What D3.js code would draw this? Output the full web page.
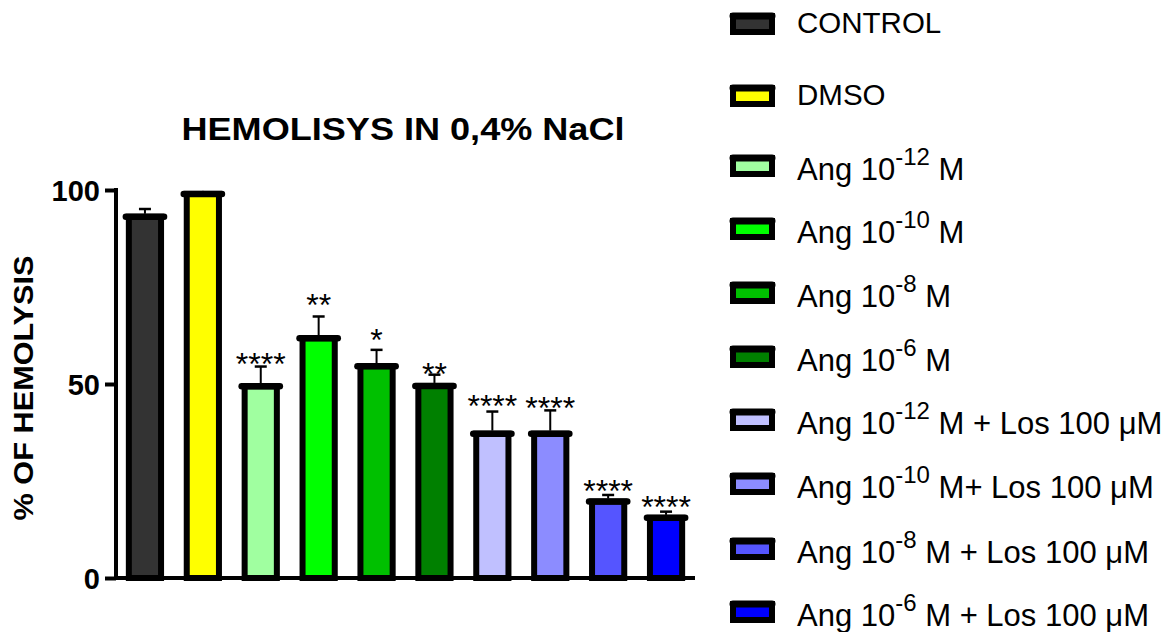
<!DOCTYPE html>
<html>
<head>
<meta charset="utf-8">
<script src="https://cdn.jsdelivr.net/npm/d3@7"></script>
<style>
  html, body { margin: 0; padding: 0; background: #fff; }
  svg { display: block; }
  text { font-family: "Liberation Sans", Arial, Helvetica, sans-serif; }
</style>
</head>
<body>
<svg id="chart" width="1175" height="632"></svg>
<script>
// ---------------- data ----------------
const categories = ["CONTROL", "DMSO", "Ang-12", "Ang-10", "Ang-8", "Ang-6",
                    "Los-12", "Los-10", "Los-8", "Los-6"];
const values   = [93.1, 99.0, 49.4, 61.8, 54.6, 49.5, 37.2, 37.2, 19.7, 15.5];
const errors   = [2.0, 0.3, 5.1, 5.6, 4.2, 2.9, 5.7, 6.0, 1.7, 1.6];
const stars    = ["", "", "****", "**", "*", "**", "****", "****", "****", "****"];
const colors   = ["#333333", "#FFFF00", "#A0FFA0", "#00FF00", "#00C000", "#008000",
                  "#C0C0FF", "#8C8CFF", "#5555FF", "#0000FF"];
// legend labels: [main text, superscript, trailing text]
const legendMain = ["CONTROL", "DMSO", "Ang 10", "Ang 10", "Ang 10", "Ang 10",
                    "Ang 10", "Ang 10", "Ang 10", "Ang 10"];
const legendSup  = ["", "", "-12", "-10", "-8", "-6", "-12", "-10", "-8", "-6"];
const legendTail = ["", "", " M", " M", " M", " M",
                    " M + Los 100 \u03BCM", " M+ Los 100 \u03BCM",
                    " M + Los 100 \u03BCM", " M + Los 100 \u03BCM"];
const yTicks = [0, 50, 100];
const titleText = "HEMOLISYS IN 0,4% NaCl";
const yLabelText = "% OF HEMOLYSIS";

// ---------------- layout (not data) ----------------
const starGap = [0, 0, 4, 13, 12, 2, 7, 4, 6, 6];     // px gap between error cap and stars
const legendRowY = [24, 96, 166, 229, 293, 357, 420, 484, 549, 612];

const svg = d3.select("#chart");

const x = d3.scaleBand().domain(categories).range([116, 695]).paddingInner(0.34).paddingOuter(0.17);
const y = d3.scaleLinear().domain([0, 100]).range([578, 190]);

const idx = d3.range(categories.length);

// bars
const bars = svg.append("g");
bars.selectAll("rect.bar").data(idx).join("rect")
  .attr("class", "bar")
  .attr("x", i => x(categories[i]) + 3)
  .attr("width", x.bandwidth() - 6)
  .attr("y", i => y(values[i]))
  .attr("height", i => y(0) - y(values[i]))
  .attr("fill", i => colors[i])
  .attr("stroke", "#000")
  .attr("stroke-width", 6);

// top caps (thick rounded line at top)
bars.selectAll("line.cap").data(idx).join("line")
  .attr("class", "cap")
  .attr("x1", i => x(categories[i]))
  .attr("x2", i => x(categories[i]) + x.bandwidth())
  .attr("y1", i => y(values[i]))
  .attr("y2", i => y(values[i]))
  .attr("stroke", "#000")
  .attr("stroke-width", 6.5)
  .attr("stroke-linecap", "round");

// error bars
const cx = i => x(categories[i]) + x.bandwidth() / 2;
bars.selectAll("line.err").data(idx).join("line")
  .attr("class", "err")
  .attr("x1", cx).attr("x2", cx)
  .attr("y1", i => y(values[i]) - 3)
  .attr("y2", i => y(values[i] + errors[i]))
  .attr("stroke", "#000").attr("stroke-width", 2);
bars.selectAll("line.errcap").data(idx).join("line")
  .attr("class", "errcap")
  .attr("x1", i => cx(i) - 6).attr("x2", i => cx(i) + 6)
  .attr("y1", i => y(values[i] + errors[i]))
  .attr("y2", i => y(values[i] + errors[i]))
  .attr("stroke", "#000").attr("stroke-width", 2.5);

// stars
const starFs = 32;
bars.selectAll("text.star").data(idx.filter(i => stars[i])).join("text")
  .attr("class", "star")
  .attr("x", cx)
  .attr("y", i => y(values[i] + errors[i]) - starGap[i] + 0.40 * starFs)
  .attr("text-anchor", "middle")
  .attr("font-size", starFs)
  .attr("fill", "#000")
  .text(i => stars[i]);

// axes
const yAxis = d3.axisLeft(y).tickValues(yTicks).tickSize(11).tickSizeOuter(0).tickPadding(5);
const gy = svg.append("g").attr("transform", "translate(116,0)").call(yAxis);
gy.select(".domain").attr("stroke", "#000").attr("stroke-width", 4)
  .attr("d", `M0,${y(100) - 2}V${y(0) + 2}`);
gy.selectAll(".tick line").attr("stroke", "#000").attr("stroke-width", 4);
gy.selectAll(".tick text").attr("font-size", 29).attr("font-weight", "bold")
  .attr("fill", "#000").attr("dy", "0.36em")
  .attr("font-family", '"Liberation Sans", Arial, sans-serif');

const xAxis = d3.axisBottom(x).tickSize(0).tickFormat("").tickSizeOuter(0);
const gx = svg.append("g").attr("transform", `translate(0,${y(0)})`).call(xAxis);
gx.select(".domain").attr("stroke", "#000").attr("stroke-width", 4)
  .attr("d", "M114,0H695");

// title
svg.append("text")
  .attr("x", 403).attr("y", 140)
  .attr("text-anchor", "middle")
  .attr("font-size", 31).attr("font-weight", "bold")
  .attr("textLength", 443).attr("lengthAdjust", "spacingAndGlyphs")
  .text(titleText);

// y label
svg.append("text")
  .attr("transform", "translate(33,388) rotate(-90)")
  .attr("text-anchor", "middle")
  .attr("font-size", 28).attr("font-weight", "bold")
  .attr("textLength", 265).attr("lengthAdjust", "spacingAndGlyphs")
  .text(yLabelText);

// legend
const leg = svg.append("g");
idx.forEach(i => {
  const cy = legendRowY[i];
  const g = leg.append("g");
  g.append("rect")
    .attr("x", 733).attr("y", cy - 8)
    .attr("width", 39).attr("height", 16)
    .attr("fill", colors[i]).attr("stroke", "#000").attr("stroke-width", 6);
  g.append("line")
    .attr("x1", 733).attr("x2", 772).attr("y1", cy - 8).attr("y2", cy - 8)
    .attr("stroke", "#000").attr("stroke-width", 7).attr("stroke-linecap", "round");
  const hasSup = legendSup[i] !== "";
  const t = g.append("text")
    .attr("x", 797).attr("y", cy + (hasSup ? 14 : 9))
    .attr("font-size", hasSup ? 31 : 29.5).attr("fill", "#000");
  t.append("tspan").text(legendMain[i]);
  if (hasSup) {
    t.append("tspan").attr("font-size", 24).attr("dy", -15).text(legendSup[i]);
    t.append("tspan").attr("dy", 15).text(legendTail[i]);
  }
});
</script>
</body>
</html>
